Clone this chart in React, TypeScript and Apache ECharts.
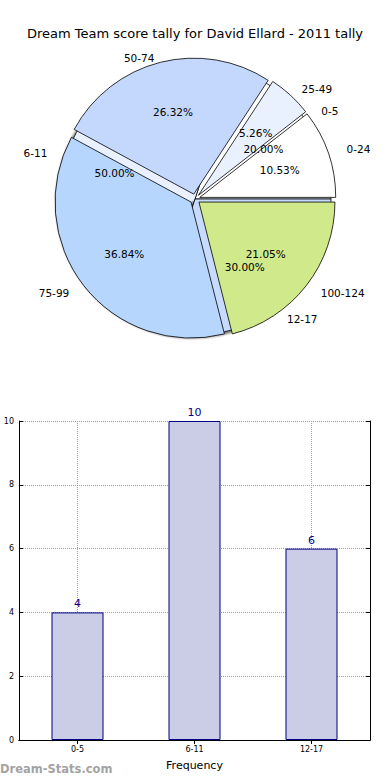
import React, { useEffect, useRef } from 'react';
import * as echarts from 'echarts';

const TITLE = 'Dream Team score tally for David Ellard - 2011 tally';
const tallyCategories = ['0-24', '25-49', '50-74', '75-99', '100-124'];
const tallyValues = [2, 1, 5, 7, 4];
const tallyColors = ['#ffffff', '#eaf1fe', '#c4d8fe', '#b6d6fe', '#cfe98b'];
const freqCategories = ['0-5', '6-11', '12-17'];
const freqValues = [4, 10, 6];
const freqColors = ['#ffffff', '#e9f0fe', '#c6dbfe'];
const yMin = 0;
const yMax = 10;
const yInterval = 2;

const FONT = 'DejaVu Sans';
const CENTER = [195, 199];
const R = 136;
const OFFSET = 5;
// label distances per slice (style only), mimicking the slightly flattened original
const tallyLabelGap = [14, 9, 4, 12, 12];
const freqLabelGap = [14, 14, 12];

function pct(values: number[]) {
  const s = values.reduce((a, b) => a + b, 0);
  return values.map((v) => ((v / s) * 100).toFixed(2) + '%');
}

export default function App() {
  const ref = useRef<HTMLDivElement>(null);
  useEffect(() => {
    if (!ref.current) return;
    const chart = echarts.init(ref.current, undefined, { renderer: 'svg' });
    const tallyPct = pct(tallyValues);
    const freqPct = pct(freqValues);

    const basePie = {
      type: 'pie',
      center: CENTER,
      startAngle: 0,
      clockwise: false,
      avoidLabelOverlap: false,
      minShowLabelAngle: 0,
      silent: true,
      emphasis: { disabled: true, scale: false },
      animation: false,
    };

    const outsideLabel = {
      show: true,
      position: 'outside',
      formatter: '{b}',
      fontFamily: FONT,
      fontSize: 10.5,
      color: '#000',
      distanceToLabelLine: 5,
    };
    const labelLine = { show: false, length: 14, length2: 0 };

    const option: any = {
      animation: false,
      title: {
        text: TITLE,
        left: 'center',
        top: 22,
        textStyle: { fontFamily: FONT, fontSize: 13, fontWeight: 'normal', color: '#000' },
      },
      grid: {
        left: 19,
        top: 421,
        width: 351,
        height: 319,
        containLabel: false,
        outerBoundsMode: 'none',
      },
      xAxis: [
        {
          type: 'category',
          position: 'bottom',
          data: freqCategories,
          name: 'Frequency',
          nameLocation: 'middle',
          nameGap: 20,
          nameTextStyle: { fontFamily: FONT, fontSize: 11, color: '#000' },
          axisLine: { show: true, lineStyle: { color: '#000', width: 1 } },
          axisTick: { show: true, inside: true, length: 4, alignWithLabel: true, lineStyle: { color: '#000' } },
          axisLabel: { fontFamily: FONT, fontSize: 8, color: '#000', margin: 5 },
          splitLine: { show: true, alignWithLabel: true, lineStyle: { type: 'dotted', color: '#a0a0a0', width: 1 } },
        },
        {
          type: 'category',
          position: 'top',
          data: freqCategories,
          axisLine: { show: true, lineStyle: { color: '#000', width: 1 } },
          axisTick: { show: true, inside: true, length: 4, alignWithLabel: true, lineStyle: { color: '#000' } },
          axisLabel: { show: false },
          splitLine: { show: false },
        },
      ],
      yAxis: [
        {
          type: 'value',
          position: 'left',
          min: yMin,
          max: yMax,
          interval: yInterval,
          name: 'Score Intervals',
          nameLocation: 'middle',
          nameGap: 21,
          nameRotate: 90,
          nameTextStyle: { fontFamily: FONT, fontSize: 11, color: '#000' },
          axisLine: { show: true, lineStyle: { color: '#000', width: 1 } },
          axisTick: { show: true, inside: true, length: 4, lineStyle: { color: '#000' } },
          axisLabel: { fontFamily: FONT, fontSize: 8, color: '#000', margin: 5 },
          splitLine: { show: true, lineStyle: { type: 'dotted', color: '#a0a0a0', width: 1 } },
        },
        {
          type: 'value',
          position: 'right',
          min: yMin,
          max: yMax,
          interval: yInterval,
          axisLine: { show: true, lineStyle: { color: '#000', width: 1 } },
          axisTick: { show: true, inside: true, length: 4, lineStyle: { color: '#000' } },
          axisLabel: { show: false },
          splitLine: { show: false },
        },
      ],
      series: [
        {
          ...basePie,
          name: 'freq',
          z: 1,
          radius: [0, R],
          label: outsideLabel,
          labelLine,
          itemStyle: {
            borderColor: '#000',
            borderWidth: 0.8,
            shadowColor: 'rgba(0,0,0,0.55)',
            shadowBlur: 2,
            shadowOffsetX: -3,
            shadowOffsetY: 3,
          },
          data: freqCategories.map((c, i) => ({
            name: c,
            value: freqValues[i],
            itemStyle: { color: freqColors[i] },
            labelLine: { show: false, length: freqLabelGap[i], length2: 0 },
          })),
        },
        {
          ...basePie,
          name: 'tally',
          z: 2,
          radius: [0, R],
          selectedMode: 'multiple',
          selectedOffset: OFFSET,
          select: { itemStyle: { borderColor: '#000', borderWidth: 0.8 } },
          label: outsideLabel,
          labelLine,
          itemStyle: { borderColor: '#000', borderWidth: 0.8 },
          data: tallyCategories.map((c, i) => ({
            name: c,
            value: tallyValues[i],
            selected: true,
            itemStyle: { color: tallyColors[i] },
            select: { itemStyle: { color: tallyColors[i] } },
            labelLine: { show: false, length: tallyLabelGap[i], length2: 0 },
          })),
        },
        {
          ...basePie,
          name: 'freqPct',
          z: 3,
          radius: [R * 0.2, R],
          label: {
            show: true,
            position: 'inside',
            fontFamily: FONT,
            fontSize: 10.5,
            color: '#000',
            formatter: (p: any) => freqPct[p.dataIndex],
          },
          labelLine: { show: false },
          itemStyle: { color: 'rgba(0,0,0,0)', borderWidth: 0 },
          data: freqCategories.map((c, i) => ({ name: c, value: freqValues[i] })),
        },
        {
          ...basePie,
          name: 'tallyPct',
          z: 3,
          radius: [R * 0.2, R],
          selectedMode: 'multiple',
          selectedOffset: OFFSET,
          select: { itemStyle: { color: 'rgba(0,0,0,0)', borderWidth: 0 } },
          label: {
            show: true,
            position: 'inside',
            fontFamily: FONT,
            fontSize: 10.5,
            color: '#000',
            formatter: (p: any) => tallyPct[p.dataIndex],
          },
          labelLine: { show: false },
          itemStyle: { color: 'rgba(0,0,0,0)', borderWidth: 0 },
          data: tallyCategories.map((c, i) => ({ name: c, value: tallyValues[i], selected: true })),
        },
        {
          type: 'bar',
          xAxisIndex: 0,
          yAxisIndex: 0,
          barWidth: 52,
          silent: true,
          data: freqValues,
          itemStyle: { color: '#cbcce5', borderColor: '#000080', borderWidth: 1 },
          label: {
            show: true,
            position: 'top',
            distance: 3,
            fontFamily: FONT,
            fontSize: 11,
            color: '#00008b',
          },
        },
      ],
      graphic: [
        {
          type: 'text',
          left: 0,
          top: 763,
          style: {
            text: 'Dream-Stats.com',
            fontFamily: FONT,
            fontSize: 11.5,
            fontWeight: 'bold',
            fill: '#a3a3a3',
          },
        },
      ],
    };
    chart.setOption(option);
    return () => chart.dispose();
  }, []);
  return (
    <div
      ref={ref}
      style={{ position: 'absolute', left: 0, top: 0, width: 390, height: 780, background: '#fff' }}
    />
  );
}
